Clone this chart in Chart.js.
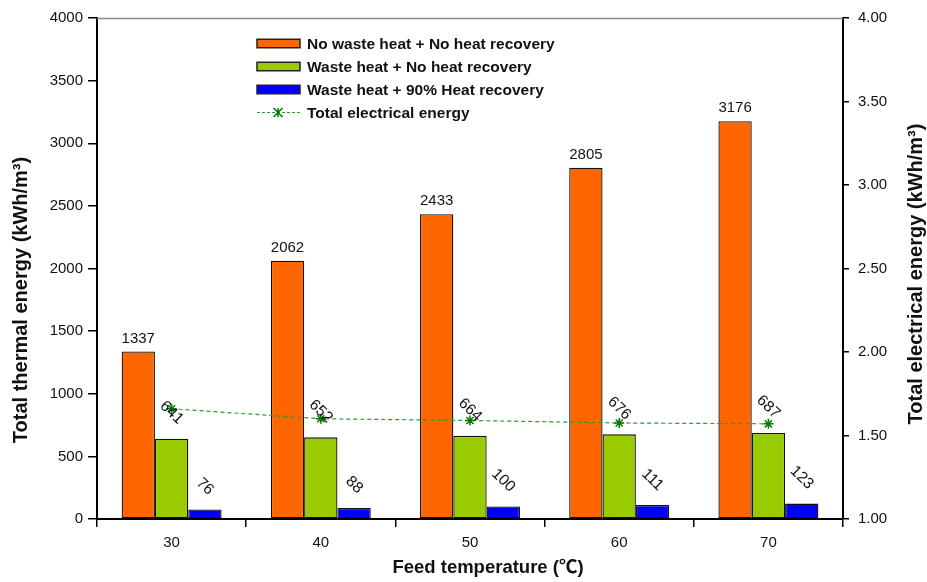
<!DOCTYPE html>
<html>
<head>
<meta charset="utf-8">
<script src="https://cdn.jsdelivr.net/npm/chart.js@4.4.1/dist/chart.umd.min.js"></script>
<style>
  html, body { margin: 0; padding: 0; background: #fff; }
  #wrap { width: 927px; height: 582px; }
</style>
</head>
<body>
<div id="wrap"><canvas id="c" width="927" height="582"></canvas></div>
<script>
const categories = ['30', '40', '50', '60', '70'];
const noWasteNoRecovery = [1337, 2062, 2433, 2805, 3176];
const wasteNoRecovery = [641, 652, 664, 676, 687];
const waste90Recovery = [76, 88, 100, 111, 123];
const totalElectrical = [1.66, 1.60, 1.59, 1.575, 1.57];
const leftTicks = [0, 500, 1000, 1500, 2000, 2500, 3000, 3500, 4000];
const rightTicks = ['1.00', '1.50', '2.00', '2.50', '3.00', '3.50', '4.00'];
const seriesNames = [
  'No waste heat + No heat recovery',
  'Waste heat + No heat recovery',
  'Waste heat + 90% Heat recovery',
  'Total electrical energy'
];
const xTitle = 'Feed temperature (\u2103)';
const yTitle = 'Total thermal energy (kWh/m\u00B3)';
const y1Title = 'Total electrical energy (kWh/m\u00B3)';

const FONT = '"Liberation Sans", Arial, Helvetica, sans-serif';
const barColors = ['#FF6600', '#99CC00', '#0000FF'];
const lineColor = '#2E9B2E';

const bgPlugin = {
  id: 'bg',
  beforeDraw(chart) {
    const ctx = chart.ctx;
    ctx.save();
    ctx.fillStyle = '#fff';
    ctx.fillRect(0, 0, chart.width, chart.height);
    ctx.restore();
  }
};

const labelPlugin = {
  id: 'valueLabels',
  afterDatasetsDraw(chart) {
    const ctx = chart.ctx;
    ctx.save();
    ctx.font = '15px ' + FONT;
    ctx.fillStyle = '#111';
    const m0 = chart.getDatasetMeta(0);
    m0.data.forEach((bar, i) => {
      ctx.textAlign = 'center';
      ctx.textBaseline = 'alphabetic';
      ctx.fillText(String(noWasteNoRecovery[i]), bar.x, bar.y - 9);
    });
    const a = 44 * Math.PI / 180;
    ctx.font = '15.5px ' + FONT;
    [[1, wasteNoRecovery], [2, waste90Recovery]].forEach(([di, vals]) => {
      const meta = chart.getDatasetMeta(di);
      meta.data.forEach((bar, i) => {
        const t = String(vals[i]);
        const w = ctx.measureText(t).width;
        const off = 13 + (w / 2) * Math.sin(a) + 5.5 * Math.cos(a);
        ctx.save();
        ctx.translate(bar.x, bar.y - off);
        ctx.rotate(a);
        ctx.textAlign = 'center';
        ctx.textBaseline = 'middle';
        ctx.fillText(t, 0, 0);
        ctx.restore();
      });
    });
    ctx.restore();
  }
};

const decorPlugin = {
  id: 'decor',
  afterDraw(chart) {
    const ctx = chart.ctx;
    const ca = chart.chartArea;
    ctx.save();
    // top border of plot area
    ctx.strokeStyle = '#8a8a8a';
    ctx.lineWidth = 1.5;
    ctx.beginPath();
    ctx.moveTo(ca.left, ca.top + 0.5);
    ctx.lineTo(ca.right, ca.top + 0.5);
    ctx.stroke();

    // axis titles
    ctx.fillStyle = '#111';
    ctx.font = 'bold 20px ' + FONT;
    ctx.textAlign = 'center';
    ctx.textBaseline = 'middle';
    ctx.save();
    ctx.translate(21, 300);
    ctx.rotate(-Math.PI / 2);
    ctx.fillText(yTitle, 0, 0);
    ctx.restore();
    ctx.save();
    ctx.translate(916, 274);
    ctx.rotate(-Math.PI / 2);
    ctx.fillText(y1Title, 0, 0);
    ctx.restore();
    ctx.font = 'bold 18.5px ' + FONT + ', "Noto Sans CJK KR"';
    ctx.textBaseline = 'alphabetic';
    ctx.fillText(xTitle, 488, 573);

    // legend
    const lx = 257, boxW = 43, boxH = 8.5;
    const baselines = [49, 72, 95, 118];
    ctx.font = 'bold 15.5px ' + FONT;
    ctx.textAlign = 'left';
    for (let i = 0; i < 4; i++) {
      const by = baselines[i];
      const cy = by - 5.5;
      if (i < 3) {
        ctx.fillStyle = barColors[i];
        ctx.fillRect(lx, cy - boxH / 2, boxW, boxH);
        ctx.strokeStyle = '#222';
        ctx.lineWidth = 1.5;
        ctx.strokeRect(lx, cy - boxH / 2, boxW, boxH);
      } else {
        ctx.strokeStyle = lineColor;
        ctx.lineWidth = 1.2;
        ctx.setLineDash([3, 2]);
        ctx.beginPath();
        ctx.moveTo(lx, cy);
        ctx.lineTo(lx + boxW, cy);
        ctx.stroke();
        ctx.setLineDash([]);
        const sx = lx + 21, r = 4.5;
        ctx.strokeStyle = '#007A00';
        ctx.lineWidth = 1.5;
        ctx.beginPath();
        ctx.moveTo(sx - r, cy - r); ctx.lineTo(sx + r, cy + r);
        ctx.moveTo(sx - r, cy + r); ctx.lineTo(sx + r, cy - r);
        ctx.moveTo(sx, cy - r); ctx.lineTo(sx, cy + r);
        ctx.stroke();
      }
      ctx.fillStyle = '#111';
      ctx.fillText(seriesNames[i], 307, by);
    }
    ctx.restore();
  }
};

const barCommon = {
  yAxisID: 'y', borderColor: '#111', borderWidth: 1.3, borderSkipped: false,
  categoryPercentage: 0.67, barPercentage: 1.0, order: 1
};

const chart = new Chart(document.getElementById('c'), {
  type: 'bar',
  data: {
    labels: categories,
    datasets: [
      Object.assign({ label: seriesNames[0], data: noWasteNoRecovery, backgroundColor: barColors[0] }, barCommon),
      Object.assign({ label: seriesNames[1], data: wasteNoRecovery, backgroundColor: barColors[1] }, barCommon),
      Object.assign({ label: seriesNames[2], data: waste90Recovery, backgroundColor: barColors[2] }, barCommon),
      {
        type: 'line', label: seriesNames[3], data: totalElectrical, yAxisID: 'y1',
        borderColor: lineColor, borderWidth: 1.2, borderDash: [4, 3],
        fill: false, tension: 0,
        pointStyle: 'star', pointRadius: 5, pointBorderColor: '#007A00',
        pointBackgroundColor: '#007A00', pointBorderWidth: 1.5, order: 0
      }
    ]
  },
  options: {
    responsive: false,
    animation: false,
    layout: { padding: { top: 18, left: 0, right: 0, bottom: 0 } },
    plugins: {
      legend: { display: false },
      tooltip: { enabled: false },
      title: { display: false }
    },
    scales: {
      x: {
        type: 'category',
        offset: true,
        grid: { display: true, drawOnChartArea: false, offset: true, tickLength: 8, color: '#000', lineWidth: 1.5 },
        border: { display: true, color: '#000', width: 2 },
        ticks: { font: { family: FONT, size: 15 }, color: '#111', padding: 7 },
        afterFit(s) { s.height = 63; }
      },
      y: {
        position: 'left',
        min: 0, max: 4000,
        afterBuildTicks(s) { s.ticks = leftTicks.map(v => ({ value: v })); },
        grid: { display: true, drawOnChartArea: false, tickLength: 9, color: '#000', lineWidth: 1.5 },
        border: { display: true, color: '#000', width: 2 },
        ticks: { font: { family: FONT, size: 15 }, color: '#111', padding: 5, callback: (v) => String(v) },
        afterFit(s) { s.width = 97; }
      },
      y1: {
        position: 'right',
        min: 1, max: 4,
        afterBuildTicks(s) { s.ticks = rightTicks.map(v => ({ value: parseFloat(v) })); },
        grid: { display: true, drawOnChartArea: false, tickLength: 6, color: '#000', lineWidth: 1.5 },
        border: { display: true, color: '#000', width: 2 },
        ticks: {
          font: { family: FONT, size: 15 }, color: '#111', padding: 9,
          callback: (v) => Number(v).toFixed(2)
        },
        afterFit(s) { s.width = 84; }
      }
    }
  },
  plugins: [bgPlugin, labelPlugin, decorPlugin]
});
</script>
</body>
</html>
